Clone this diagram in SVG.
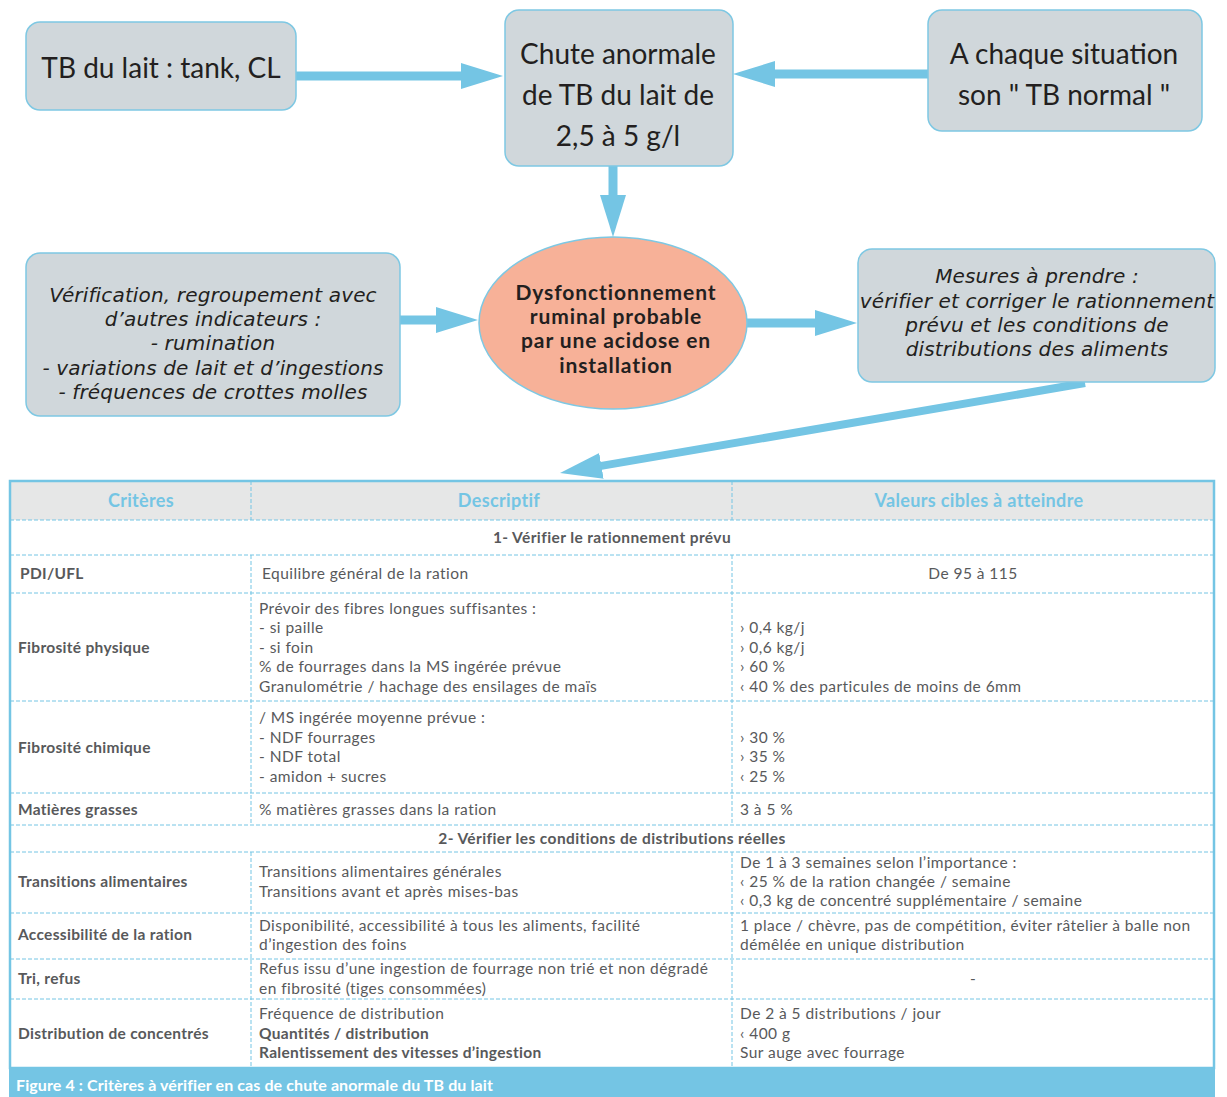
<svg xmlns="http://www.w3.org/2000/svg" width="1227" height="1097" viewBox="0 0 1227 1097">
<defs>
<style>
.box{fill:#d0d7db;stroke:#7ec8e3;stroke-width:1.5}
.ell{fill:#f7b198;stroke:#7ec8e3;stroke-width:1.5}
.bt{font-family:Lato,"Noto Sans",sans-serif;font-size:28px;fill:#231f20;text-anchor:middle}
.it{font-family:"DejaVu Sans",sans-serif;font-size:20px;font-style:italic;letter-spacing:0.15px;fill:#231f20;text-anchor:middle}
.et{font-family:Lato,"Noto Sans",sans-serif;font-size:21px;font-weight:bold;letter-spacing:0.9px;fill:#231f20;text-anchor:middle}
.con{stroke:#74c5e4;stroke-width:9;fill:none}
.dash{stroke:#74c5e4;stroke-width:1;stroke-dasharray:4,2;fill:none}
.th{font-family:Lato,"Noto Sans",sans-serif;font-size:18px;font-weight:bold;letter-spacing:0.35px;fill:#74c5e4;text-anchor:middle}
.tc{font-family:Lato,"Noto Sans",sans-serif;font-size:15.5px;letter-spacing:0.45px;fill:#58595b}
.tb{font-family:Lato,"Noto Sans",sans-serif;font-size:15.5px;font-weight:bold;letter-spacing:0.3px;fill:#58595b}
.ts{font-family:Lato,"Noto Sans",sans-serif;font-size:15.5px;font-weight:bold;letter-spacing:0.4px;fill:#58595b;text-anchor:middle}
.cap{font-family:Lato,"Noto Sans",sans-serif;font-size:16px;font-weight:bold;letter-spacing:0.1px;fill:#ffffff}
</style>
<marker id="ah" markerUnits="userSpaceOnUse" markerWidth="44" markerHeight="28" refX="12" refY="13" orient="auto">
<path d="M0,0 L42,13 L0,26 Z" fill="#74c5e4"/>
</marker>
</defs>

<g id="connectors">
<line class="con" x1="296" y1="76" x2="473" y2="76" marker-end="url(#ah)"/>
<line class="con" x1="928" y1="74" x2="763" y2="74" marker-end="url(#ah)"/>
<line class="con" x1="613" y1="166" x2="613" y2="207" marker-end="url(#ah)"/>
<line class="con" x1="400" y1="320" x2="448" y2="320" marker-end="url(#ah)"/>
<line class="con" x1="747" y1="323" x2="827" y2="323" marker-end="url(#ah)"/>
<line class="con" style="stroke-width:8" x1="1085" y1="383" x2="589.6" y2="467.9" marker-end="url(#ah)"/>
</g>

<g id="n-tb-lait">
<rect class="box" x="26" y="22" width="270" height="88" rx="14"/>
<text class="bt" x="161" y="78">TB du lait : tank, CL</text>
</g>

<g id="n-chute">
<rect class="box" x="505" y="10" width="228" height="156" rx="14"/>
<text class="bt" x="618" y="64">Chute anormale</text>
<text class="bt" x="618" y="105">de TB du lait de</text>
<text class="bt" x="618" y="146">2,5 à 5 g/l</text>
</g>

<g id="n-situation">
<rect class="box" x="928" y="10" width="274" height="121" rx="14"/>
<text class="bt" x="1064" y="64">A chaque situation</text>
<text class="bt" x="1064" y="105">son " TB normal "</text>
</g>

<g id="n-dysfonction">
<ellipse class="ell" cx="613" cy="323" rx="134" ry="86"/>
<text class="et" x="616" y="300">Dysfonctionnement</text>
<text class="et" x="616" y="324">ruminal probable</text>
<text class="et" x="616" y="348">par une acidose en</text>
<text class="et" x="616" y="373">installation</text>
</g>

<g id="n-verification">
<rect class="box" x="26" y="253" width="374" height="163" rx="14"/>
<text class="it" x="213" y="302">Vérification, regroupement avec</text>
<text class="it" x="213" y="326">d’autres indicateurs :</text>
<text class="it" x="213" y="350">- rumination</text>
<text class="it" x="213" y="375">- variations de lait et d’ingestions</text>
<text class="it" x="213" y="399">- fréquences de crottes molles</text>
</g>

<g id="n-mesures">
<rect class="box" x="858" y="249" width="357" height="133" rx="14"/>
<text class="it" x="1037" y="283">Mesures à prendre :</text>
<text class="it" x="1037" y="308">vérifier et corriger le rationnement</text>
<text class="it" x="1037" y="332">prévu et les conditions de</text>
<text class="it" x="1037" y="356">distributions des aliments</text>
</g>

<g id="table">
<rect x="10" y="481" width="1204" height="39" fill="#e6e7e7"/>
<rect x="10" y="520" width="1204" height="548" fill="#ffffff"/>
<g class="dash">
<line x1="10" y1="520" x2="1214" y2="520"/>
<line x1="10" y1="555" x2="1214" y2="555"/>
<line x1="10" y1="593" x2="1214" y2="593"/>
<line x1="10" y1="701" x2="1214" y2="701"/>
<line x1="10" y1="793" x2="1214" y2="793"/>
<line x1="10" y1="825" x2="1214" y2="825"/>
<line x1="10" y1="852" x2="1214" y2="852"/>
<line x1="10" y1="913" x2="1214" y2="913"/>
<line x1="10" y1="959" x2="1214" y2="959"/>
<line x1="10" y1="999" x2="1214" y2="999"/>
<line x1="251" y1="481" x2="251" y2="520"/>
<line x1="732" y1="481" x2="732" y2="520"/>
<line x1="251" y1="555" x2="251" y2="825"/>
<line x1="732" y1="555" x2="732" y2="825"/>
<line x1="251" y1="852" x2="251" y2="1068"/>
<line x1="732" y1="852" x2="732" y2="1068"/>
</g>
<rect x="10" y="481" width="1204" height="587" fill="none" stroke="#74c5e4" stroke-width="2.5"/>

<text class="th" x="141" y="507">Critères</text>
<text class="th" x="499" y="507">Descriptif</text>
<text class="th" x="979" y="507">Valeurs cibles à atteindre</text>

<text class="ts" x="612" y="543">1- Vérifier le rationnement prévu</text>

<text class="tb" x="20" y="579">PDI/UFL</text>
<text class="tc" x="262" y="579">Equilibre général de la ration</text>
<text class="tc" x="973" y="579" text-anchor="middle">De 95 à 115</text>

<text class="tb" x="18" y="653">Fibrosité physique</text>
<text class="tc" x="259" y="614">Prévoir des fibres longues suffisantes :</text>
<text class="tc" x="259" y="633">- si paille</text>
<text class="tc" x="259" y="653">- si foin</text>
<text class="tc" x="259" y="672">% de fourrages dans la MS ingérée prévue</text>
<text class="tc" x="259" y="692">Granulométrie / hachage des ensilages de maïs</text>
<text class="tc" x="740" y="633">› 0,4 kg/j</text>
<text class="tc" x="740" y="653">› 0,6 kg/j</text>
<text class="tc" x="740" y="672">› 60 %</text>
<text class="tc" x="740" y="692">‹ 40 % des particules de moins de 6mm</text>

<text class="tb" x="18" y="753">Fibrosité chimique</text>
<text class="tc" x="259" y="723">/ MS ingérée moyenne prévue :</text>
<text class="tc" x="259" y="743">- NDF fourrages</text>
<text class="tc" x="259" y="762">- NDF total</text>
<text class="tc" x="259" y="782">- amidon + sucres</text>
<text class="tc" x="740" y="743">› 30 %</text>
<text class="tc" x="740" y="762">› 35 %</text>
<text class="tc" x="740" y="782">‹ 25 %</text>

<text class="tb" x="18" y="815">Matières grasses</text>
<text class="tc" x="259" y="815">% matières grasses dans la ration</text>
<text class="tc" x="740" y="815">3 à 5 %</text>

<text class="ts" x="612" y="844">2- Vérifier les conditions de distributions réelles</text>

<text class="tb" x="18" y="887">Transitions alimentaires</text>
<text class="tc" x="259" y="877">Transitions alimentaires générales</text>
<text class="tc" x="259" y="897">Transitions avant et après mises-bas</text>
<text class="tc" x="740" y="868">De 1 à 3 semaines selon l’importance :</text>
<text class="tc" x="740" y="887">‹ 25 % de la ration changée / semaine</text>
<text class="tc" x="740" y="906">‹ 0,3 kg de concentré supplémentaire / semaine</text>

<text class="tb" x="18" y="940">Accessibilité de la ration</text>
<text class="tc" x="259" y="931">Disponibilité, accessibilité à tous les  aliments, facilité</text>
<text class="tc" x="259" y="950">d’ingestion des foins</text>
<text class="tc" x="740" y="931">1 place / chèvre, pas de compétition, éviter râtelier à balle non</text>
<text class="tc" x="740" y="950">démêlée en unique distribution</text>

<text class="tb" x="18" y="984">Tri, refus</text>
<text class="tc" x="259" y="974">Refus issu d’une ingestion de fourrage non trié et non dégradé</text>
<text class="tc" x="259" y="994">en fibrosité (tiges consommées)</text>
<text class="tc" x="973" y="984" text-anchor="middle">-</text>

<text class="tb" x="18" y="1039">Distribution de concentrés</text>
<text class="tc" x="259" y="1019">Fréquence de distribution</text>
<text class="tb" x="259" y="1039">Quantités / distribution</text>
<text class="tb" x="259" y="1058">Ralentissement des vitesses d’ingestion</text>
<text class="tc" x="740" y="1019">De 2 à 5 distributions / jour</text>
<text class="tc" x="740" y="1039">‹ 400 g</text>
<text class="tc" x="740" y="1058">Sur auge avec fourrage</text>
</g>

<g id="caption">
<rect x="9" y="1068" width="1206" height="29" fill="#74c5e4"/>
<text class="cap" x="16" y="1091">Figure 4 : Critères à vérifier en cas de chute anormale du TB du lait</text>
</g>
</svg>
